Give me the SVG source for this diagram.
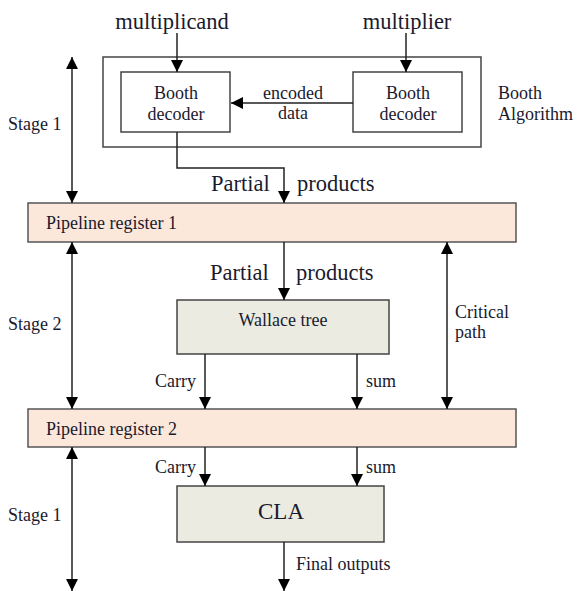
<svg xmlns="http://www.w3.org/2000/svg" width="577" height="591" viewBox="0 0 577 591">
  <style>
    text { font-family: "Liberation Serif", "Times New Roman", serif; fill: #1a1a2e; }
    .box { fill: #ffffff; stroke: #444; stroke-width: 1.5; }
    .reg { fill: #fce8da; stroke: #555; stroke-width: 1.5; }
    .unit { fill: #ecebe1; stroke: #444; stroke-width: 1.5; }
    .wire { fill: none; stroke: #222; stroke-width: 1.5; }
    .arrow { marker-end: url(#head); }
    .both { marker-start: url(#head); marker-end: url(#head); }
    .s15 { font-size: 18px; }
    .s19 { font-size: 22.5px; }
  </style>
  <defs>
    <marker id="head" viewBox="0 0 12 14" refX="12" refY="6" markerWidth="12" markerHeight="14" markerUnits="userSpaceOnUse" orient="auto-start-reverse">
      <path d="M0,0 L12,6 L0,12 Z" fill="#000"/>
    </marker>
  </defs>

  <!-- Booth algorithm block -->
  <g id="booth-algorithm">
    <rect class="box" x="103" y="57" width="378" height="90"/>
    <text class="s15" x="498" y="99">Booth</text>
    <text class="s15" x="498" y="120">Algorithm</text>
  </g>
  <g id="booth-decoder-left">
    <rect class="box" x="121" y="72" width="109" height="60"/>
    <text class="s15" x="176" y="99" text-anchor="middle">Booth</text>
    <text class="s15" x="176" y="120" text-anchor="middle">decoder</text>
  </g>
  <g id="booth-decoder-right">
    <rect class="box" x="353" y="72" width="109" height="60"/>
    <text class="s15" x="408" y="99" text-anchor="middle">Booth</text>
    <text class="s15" x="408" y="120" text-anchor="middle">decoder</text>
  </g>

  <!-- Pipeline registers -->
  <g id="pipeline-register-1">
    <rect class="reg" x="28" y="203" width="488" height="39"/>
    <text class="s15" x="46" y="229">Pipeline register 1</text>
  </g>
  <g id="pipeline-register-2">
    <rect class="reg" x="28" y="409" width="488" height="38"/>
    <text class="s15" x="46" y="435">Pipeline register 2</text>
  </g>

  <!-- Functional units -->
  <g id="wallace-tree">
    <rect class="unit" x="177" y="300" width="212" height="54"/>
    <text class="s15" x="283" y="326" text-anchor="middle">Wallace tree</text>
  </g>
  <g id="cla">
    <rect class="unit" x="177" y="486" width="207" height="56"/>
    <text x="281" y="519" font-size="23" text-anchor="middle">CLA</text>
  </g>

  <!-- Stage / timing labels -->
  <g id="labels">
    <text class="s15" x="8" y="130">Stage 1</text>
    <text class="s15" x="8" y="330">Stage 2</text>
    <text class="s15" x="8" y="521">Stage 1</text>
    <text class="s15" x="455" y="318">Critical</text>
    <text class="s15" x="455" y="338">path</text>
  </g>

  <!-- Connectors -->
  <g id="connectors">
    <text class="s19" x="172" y="29" text-anchor="middle">multiplicand</text>
    <path class="wire arrow" d="M177,33 V72"/>
    <text class="s19" x="407" y="29" text-anchor="middle">multiplier</text>
    <path class="wire arrow" d="M406,33 V72"/>

    <path class="wire arrow" d="M353,103 H231"/>
    <text class="s15" x="293" y="99" text-anchor="middle">encoded</text>
    <text class="s15" x="293" y="119" text-anchor="middle">data</text>

    <path class="wire arrow" d="M177,132 V168 H284 V203"/>
    <text class="s19" x="211" y="191">Partial</text>
    <text class="s19" x="297" y="191">products</text>

    <path class="wire arrow" d="M284,242 V300"/>
    <text class="s19" x="210" y="280">Partial</text>
    <text class="s19" x="296" y="280">products</text>

    <path class="wire arrow" d="M205,354 V409"/>
    <text class="s15" x="196" y="387" text-anchor="end">Carry</text>
    <path class="wire arrow" d="M357,354 V409"/>
    <text class="s15" x="366" y="387">sum</text>

    <path class="wire arrow" d="M205,447 V486"/>
    <text class="s15" x="196" y="473" text-anchor="end">Carry</text>
    <path class="wire arrow" d="M357,447 V486"/>
    <text class="s15" x="366" y="473">sum</text>

    <path class="wire arrow" d="M284,542 V591"/>
    <text class="s15" x="296" y="570">Final outputs</text>

    <path class="wire both" d="M72,57 V203"/>
    <path class="wire both" d="M72,242 V409"/>
    <path class="wire both" d="M72,447 V591"/>
    <path class="wire both" d="M447,242 V409"/>
  </g>
</svg>
